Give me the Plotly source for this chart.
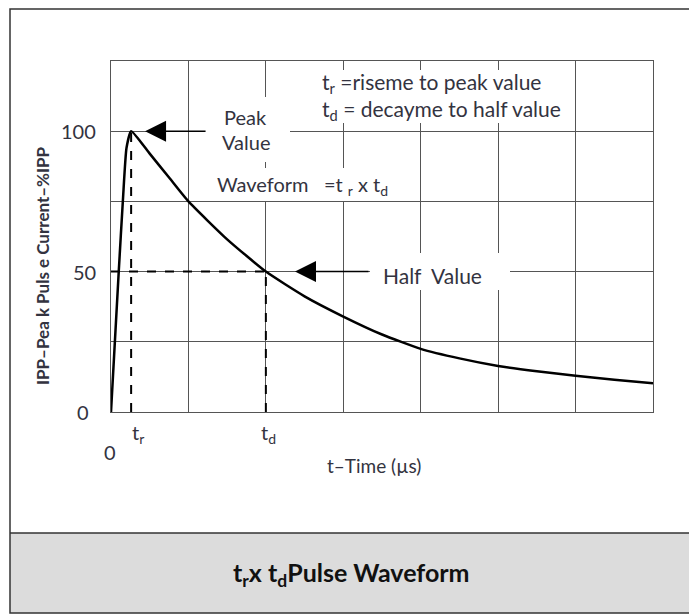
import plotly.graph_objects as go

# ---- data (x in grid units of time, y in % of IPP) ----
t_vals = [0, 0.10, 0.155, 0.20, 0.26, 0.50, 0.75, 1.0, 1.5, 2.0, 2.5, 3.0, 3.5, 4.0, 4.5, 5.0, 5.5, 6.0, 6.5, 7.0]
i_vals = [0, 50, 76, 94, 100, 92, 83.5, 75, 61.5, 50, 41.2, 34, 27.6, 22.5, 19.1, 16.4, 14.5, 12.9, 11.5, 10.2]
t_rise = 0.26
t_decay = 2.0
peak_val = 100
half_val = 50
y_tick_vals = [0, 50, 100]
y_tick_text = ["0", "50", "100"]

OFF = 8  # page body margin
W, H = 697 - OFF, 615 - OFF
# plot area in screen pixels
L, R, T, B = 111, 653, 61, 412
FONT = "Lato"
TXT = "#333340"
GRID = "#555555"

def px(x):
    return (x - L) / (R - L)

def py(y):
    return (B - y) / (B - T)

fig = go.Figure()
fig.add_trace(go.Scatter(x=t_vals, y=i_vals, mode="lines",
                         line=dict(color="black", width=2.5, shape="spline", smoothing=0.5),
                         hoverinfo="skip", showlegend=False))

# dashed guide lines
dash = dict(color="black", width=2, dash="dash")
fig.add_shape(type="line", x0=t_rise, x1=t_rise, y0=0, y1=peak_val, line=dash)
fig.add_shape(type="line", x0=0, x1=t_decay, y0=half_val, y1=half_val, line=dash)
fig.add_shape(type="line", x0=t_decay, x1=t_decay, y0=0, y1=half_val, line=dash)

# outer frame and caption band
fig.add_shape(type="rect", xref="paper", yref="paper", x0=px(10), x1=px(692), y0=py(613), y1=py(533),
              fillcolor="#dcdcdc", line=dict(width=0), layer="below")
fig.add_shape(type="rect", xref="paper", yref="paper", x0=px(10), x1=px(692), y0=py(613), y1=py(9),
              line=dict(color="#333333", width=1.5), layer="above")
fig.add_shape(type="line", xref="paper", yref="paper", x0=px(10), x1=px(692), y0=py(533), y1=py(533),
              line=dict(color="#333333", width=1.5), layer="above")

ann = []

def box(cx, cy, w, h):
    ann.append(dict(xref="paper", yref="paper", x=px(cx), y=py(cy), text=" ", showarrow=False,
                    width=w, height=h, bgcolor="white", borderpad=0, borderwidth=0,
                    xanchor="center", yanchor="middle"))

def txt(x, y, s, size=20, xanchor="center", bold=False, color=TXT):
    ann.append(dict(xref="paper", yref="paper", x=px(x), y=py(y), text=s, showarrow=False,
                    xanchor=xanchor, yanchor="middle",
                    font=dict(family=FONT, size=size, color=color, weight="bold" if bold else "normal")))

# white gaps behind labels
box(247.5, 129.5, 85, 65)
box(311, 184, 202, 33)
box(443, 96.5, 257, 53)
box(440, 271.5, 140, 37)

# labels inside the plot
txt(245, 117, "Peak")
txt(246, 142, "Value")
txt(215, 185, "Waveform   =t <sub>r</sub> x t<sub>d</sub>", xanchor="left")
txt(320, 83, "t<sub>r</sub> =riseme to peak value", size=21, xanchor="left")
txt(320, 110, "t<sub>d</sub> = decayme to half value", size=21, xanchor="left")
txt(433, 275, "Half  Value", size=21)

# arrows
ann.append(dict(x=0.44, y=peak_val, ax=62, ay=0, text="", showarrow=True, arrowhead=2,
                arrowsize=2.8, arrowwidth=1.5, arrowcolor="black", standoff=0))
ann.append(dict(x=2.376, y=half_val, ax=75, ay=0, text="", showarrow=True, arrowhead=2,
                arrowsize=2.8, arrowwidth=1.5, arrowcolor="black", standoff=0))

# tick labels
tick_right = {0: 91, 50: 98, 100: 98}
for v, s in zip(y_tick_vals, y_tick_text):
    ann.append(dict(xref="paper", yref="y", x=px(tick_right[v]), y=v, text=s, showarrow=False,
                    xanchor="right", yanchor="middle", font=dict(family=FONT, size=20, color=TXT)))
txt(110, 452, "0")
txt(138, 433, "t<sub>r</sub>")
txt(268, 433, "t<sub>d</sub>")
txt(374, 466, "t–Time (µs)", size=19)

# y axis title
ann.append(dict(xref="paper", yref="paper", x=px(42), y=py(266), text="IPP–Pea k Puls e Current–%IPP",
                showarrow=False, textangle=-90, xanchor="center", yanchor="middle",
                font=dict(family=FONT, size=17, color=TXT, weight="bold")))

# caption
ann.append(dict(xref="paper", yref="paper", x=px(351), y=py(574),
                text="t<sub>r</sub>x t<sub>d</sub>Pulse Waveform", showarrow=False,
                xanchor="center", yanchor="middle",
                font=dict(family=FONT, size=25, color="#111111", weight="bold")))

fig.update_layout(
    width=W, height=H,
    margin=dict(l=L - OFF, r=(W + OFF) - R, t=T - OFF, b=(H + OFF) - B),
    paper_bgcolor="white", plot_bgcolor="white",
    xaxis=dict(range=[0, 7], dtick=1, tick0=0, showgrid=True, gridcolor=GRID, gridwidth=1.3,
               showticklabels=False, zeroline=False, showline=True, linecolor=GRID, linewidth=1.3,
               mirror=True, ticks="", fixedrange=True),
    yaxis=dict(range=[0, 125], dtick=25, tick0=0, showgrid=True, gridcolor=GRID, gridwidth=1.3,
               showticklabels=False, zeroline=False, showline=True, linecolor=GRID, linewidth=1.3,
               mirror=True, ticks="", fixedrange=True),
    annotations=ann,
    showlegend=False,
)

fig.write_html("out.html")
